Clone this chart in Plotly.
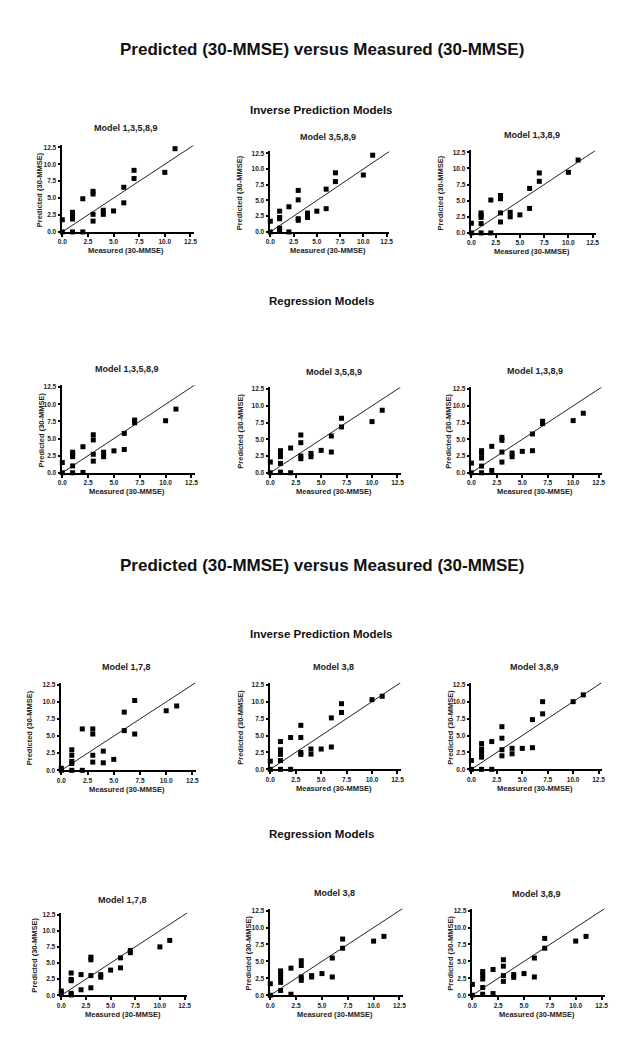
import plotly.graph_objects as go

# ---------------- data ----------------
measured = [0, 0, 1, 1, 1, 1, 1, 2, 2, 3, 3, 3, 3, 4, 4, 5, 6, 6, 7, 7, 10, 11]
identity_line = [0, 13]

# Figure A - Inverse prediction models
inv_a_13589 = [1.8, 0, 2.9, 2.5, 2.2, 1.9, 0, 4.9, 0, 6.0, 5.6, 2.6, 1.6, 3.2, 2.6, 3.1, 6.6, 4.3, 9.1, 7.9, 8.8, 12.3]
inv_a_3589 = [1.7, 0, 3.3, 2.3, 2.1, 0.6, 0.2, 4.0, 0, 6.6, 5.1, 2.1, 1.85, 3.0, 2.3, 3.3, 6.8, 3.7, 9.4, 8.0, 9.05, 12.2]
inv_a_1389 = [1.5, 0, 3.1, 2.7, 2.4, 1.45, 0, 5.1, 0, 5.8, 5.3, 3.1, 1.7, 3.2, 2.5, 2.8, 6.9, 3.8, 9.3, 8.0, 9.4, 11.3]
# Figure A - Regression models
reg_a_13589 = [1.5, 0, 3.0, 2.7, 2.35, 1.0, 0, 3.8, 0.05, 5.55, 4.8, 2.7, 1.7, 3.0, 2.35, 3.2, 5.75, 3.4, 7.7, 7.3, 7.6, 9.3]
reg_a_3589 = [1.6, 0, 3.3, 2.9, 2.4, 1.4, 0.1, 3.7, 0, 5.65, 4.5, 2.5, 2.1, 2.9, 2.4, 3.35, 5.5, 3.1, 8.15, 6.85, 7.65, 9.35]
reg_a_1389 = [1.45, 0, 3.3, 2.9, 2.2, 1.0, 0, 3.95, 0.35, 5.3, 4.85, 3.1, 1.6, 2.95, 2.4, 3.2, 5.8, 3.3, 7.7, 7.35, 7.8, 8.9]
# Figure B - Inverse prediction models
inv_b_178 = [0.3, 0, 3.0, 2.2, 1.3, 1.0, 0, 6.05, 0, 6.05, 5.3, 2.2, 1.2, 2.8, 1.1, 1.6, 8.5, 5.8, 10.2, 5.3, 8.7, 9.4]
inv_b_38 = [1.2, 0, 4.1, 2.9, 2.2, 1.3, 0, 4.7, 0, 6.5, 4.7, 2.5, 2.2, 3.0, 2.25, 3.0, 7.6, 3.3, 9.7, 8.4, 10.3, 10.8]
inv_b_389 = [1.3, 0, 3.8, 3.0, 2.45, 1.8, 0, 4.1, 0, 6.3, 4.6, 2.9, 2.0, 3.1, 2.3, 3.1, 7.35, 3.2, 10.0, 8.2, 10.0, 11.0]
# Figure B - Regression models
reg_b_178 = [0.65, 0.25, 3.45, 2.45, 2.25, 0.3, 0.05, 3.2, 0.85, 5.9, 5.5, 3.05, 1.15, 3.2, 2.8, 3.9, 5.8, 4.25, 6.95, 6.6, 7.5, 8.5]
reg_b_38 = [1.7, 0, 3.6, 3.2, 2.6, 1.9, 0.7, 4.0, 0.15, 5.1, 4.4, 2.7, 2.2, 2.9, 2.7, 3.2, 5.5, 2.7, 8.3, 6.95, 8.0, 8.7]
reg_b_389 = [1.6, 0, 3.5, 3.0, 2.4, 1.15, 0.15, 3.8, 0.25, 5.25, 4.3, 2.9, 2.05, 3.05, 2.65, 3.2, 5.5, 2.7, 8.4, 6.95, 8.0, 8.7]

panel_titles = ["Model 1,3,5,8,9", "Model 3,5,8,9", "Model 1,3,8,9",
                "Model 1,3,5,8,9", "Model 3,5,8,9", "Model 1,3,8,9",
                "Model 1,7,8", "Model 3,8", "Model 3,8,9",
                "Model 1,7,8", "Model 3,8", "Model 3,8,9"]
panel_values = [inv_a_13589, inv_a_3589, inv_a_1389,
                reg_a_13589, reg_a_3589, reg_a_1389,
                inv_b_178, inv_b_38, inv_b_389,
                reg_b_178, reg_b_38, reg_b_389]
tick_vals = [0, 2.5, 5, 7.5, 10, 12.5]
tick_text = ["0.0", "2.5", "5.0", "7.5", "10.0", "12.5"]

main_title = "Predicted (30-MMSE) versus Measured (30-MMSE)"
x_title = "Measured (30-MMSE)"
y_title = "Predicted (30-MMSE)"

# ---------------- layout geometry (pixels in the 642x1049 window) ----------------
PAGE_OFFSET = 8          # default body margin of the page around the figure
W, H = 642 - PAGE_OFFSET, 1049 - PAGE_OFFSET
R = 12.8  # axis upper limit
# (x at 0, x at 12.5, y at 12.5, y at 0, title y, y-title x offset)
boxes = [
    (58, 188, 146, 231, 127, 23), (269, 387, 152, 231, 136, 31), (473, 596, 151, 232, 134, 31),
    (58, 189, 387, 473, 369, 21), (269, 398, 389, 473, 372, 30), (473, 602, 389, 473, 371, 23),
    (57, 190, 686, 772, 668, 32), (269, 398, 686, 771, 668, 31), (473, 602, 686, 771, 668, 22),
    (57, 182, 917, 998, 902, 27), (269, 400, 913, 998, 895, 22), (474, 605, 913, 998, 896, 22),
]
section_titles = [(main_title, 48, 17), ("Inverse Prediction Models", 108, 11.5),
                  ("Regression Models", 300, 11.5), (main_title, 566, 17),
                  ("Inverse Prediction Models", 635, 11.5), ("Regression Models", 836, 11.5)]

FONT = "Arial, Liberation Sans, sans-serif"

def px_x(p):
    return (p - PAGE_OFFSET) / W

def px_y(p):
    return 1 - (p - PAGE_OFFSET) / H

fig = go.Figure()
layout = dict(width=W, height=H, margin=dict(l=0, r=0, t=0, b=0),
              paper_bgcolor="white", plot_bgcolor="white", showlegend=False)
annotations = []

for i, (vals, title, box) in enumerate(zip(panel_values, panel_titles, boxes), start=1):
    x0, x125, yt, yb, ty, yoff = box
    xend = x0 + (x125 - x0) * R / 12.5
    ytop = yb - (yb - yt) * R / 12.5
    sfx = "" if i == 1 else str(i)
    xa, ya = "x" + sfx, "y" + sfx
    axis_common = dict(range=[0, R], showgrid=False, zeroline=False, showline=True,
                       linecolor="black", linewidth=1.5, ticks="outside", ticklen=3,
                       tickwidth=1.5, tickcolor="black", tickvals=tick_vals, ticktext=tick_text,
                       tickfont=dict(family=FONT, size=6.5, color="#222", weight="bold"),
                       fixedrange=True)
    layout["xaxis" + sfx] = dict(axis_common, domain=[px_x(x0), px_x(xend)], anchor=ya)
    layout["yaxis" + sfx] = dict(axis_common, domain=[px_y(yb), px_y(ytop)], anchor=xa)

    fig.add_trace(go.Scatter(x=identity_line, y=identity_line, mode="lines",
                             line=dict(color="#222", width=1), xaxis=xa, yaxis=ya,
                             hoverinfo="skip"))
    fig.add_trace(go.Scatter(x=measured, y=vals, mode="markers", cliponaxis=False,
                             marker=dict(symbol="square", size=5, color="black"),
                             xaxis=xa, yaxis=ya))

    annotations.append(dict(text=title, x=px_x((x0 + x125) / 2), y=px_y(ty), xref="paper",
                            yref="paper", showarrow=False, xanchor="center", yanchor="middle",
                            font=dict(family=FONT, size=9, color="#222", weight="bold")))
    annotations.append(dict(text=x_title, x=px_x((x0 + x125) / 2), y=px_y(yb + 19), xref="paper",
                            yref="paper", showarrow=False, xanchor="center", yanchor="middle",
                            font=dict(family=FONT, size=7.5, color="#222", weight="bold")))
    annotations.append(dict(text=y_title, x=px_x(x0 - yoff), y=px_y((yt + yb) / 2), xref="paper",
                            yref="paper", showarrow=False, xanchor="center", yanchor="middle",
                            textangle=-90,
                            font=dict(family=FONT, size=7.5, color="#222", weight="bold")))

for text, y, size in section_titles:
    annotations.append(dict(text=text, x=px_x(321), y=px_y(y), xref="paper", yref="paper",
                            showarrow=False, xanchor="center", yanchor="middle",
                            font=dict(family=FONT, size=size, color="#111", weight="bold")))

layout["annotations"] = annotations
fig.update_layout(**layout)
fig.write_html("out.html")
